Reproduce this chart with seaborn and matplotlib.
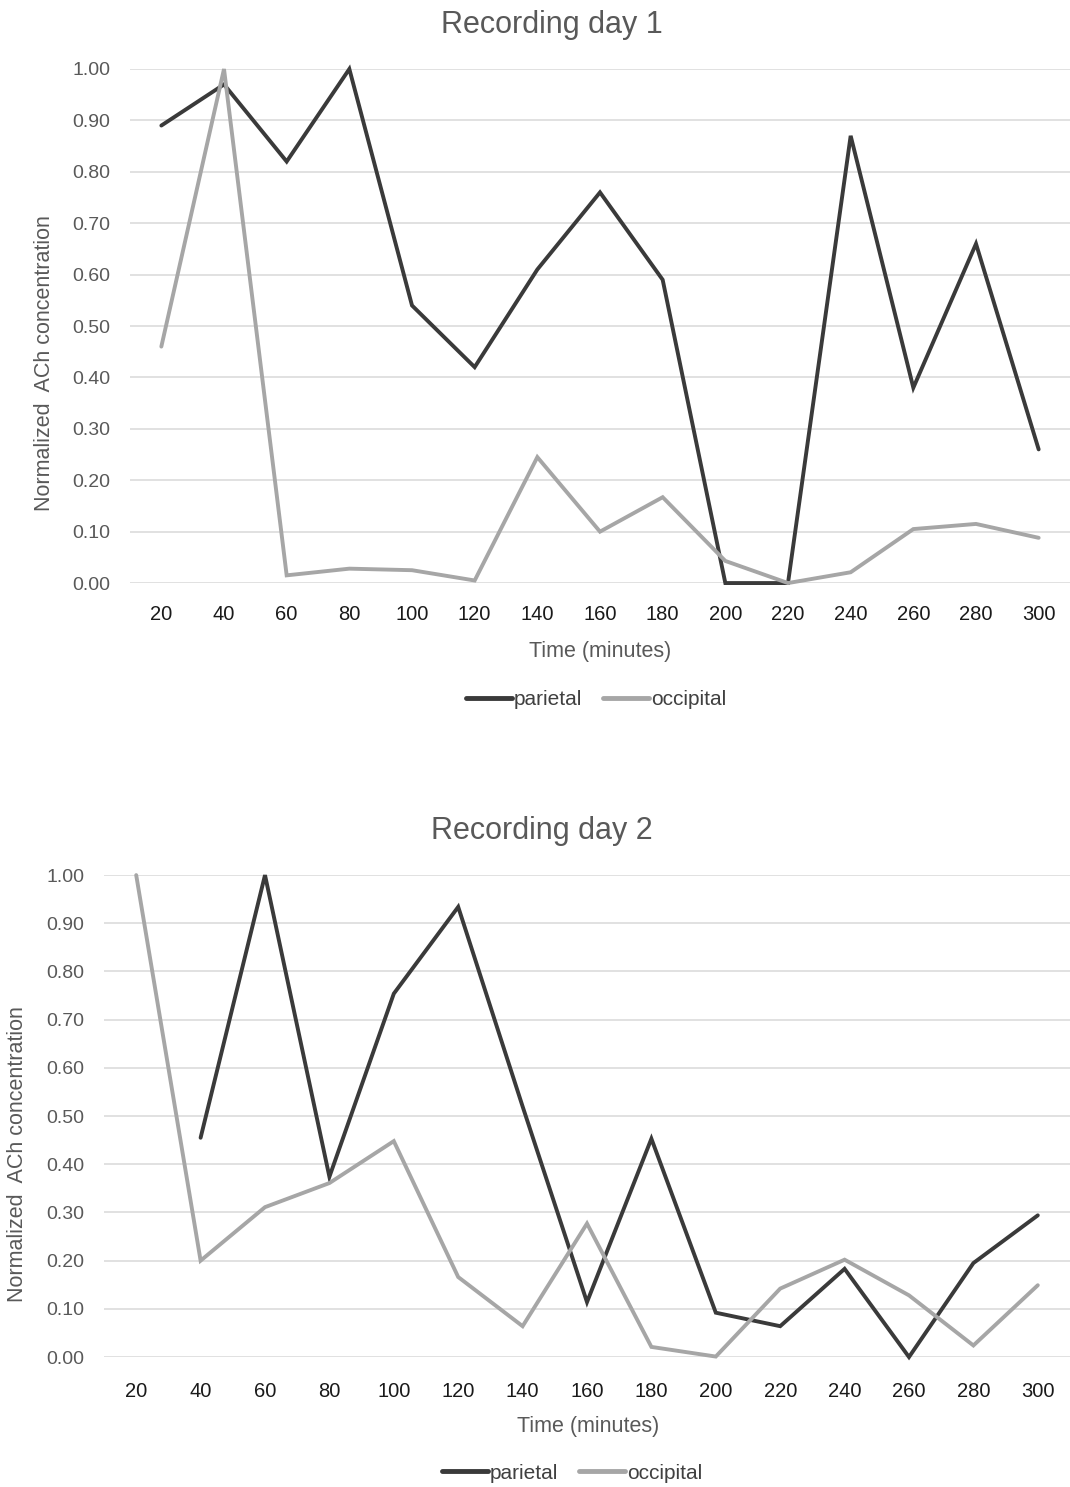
import numpy as np
import pandas as pd
import matplotlib
matplotlib.use('Agg')
import matplotlib.pyplot as plt
import seaborn as sns

# ─── Data ─────────────────────────────────────────────────────────────────
times = [20, 40, 60, 80, 100, 120, 140, 160, 180, 200, 220, 240, 260, 280, 300]

day1_parietal = [0.89, 0.97, 0.82, 1.00, 0.54, 0.42, 0.61, 0.76, 0.59,
                 0.00, 0.00, 0.87, 0.38, 0.66, 0.26]
day1_occipital = [0.46, 1.00, 0.015, 0.028, 0.025, 0.005, 0.245, 0.10, 0.167,
                  0.043, 0.00, 0.021, 0.105, 0.115, 0.088]

day2_parietal = [np.nan, 0.455, 1.00, 0.374, 0.754, 0.934, 0.52, 0.114, 0.453,
                 0.092, 0.064, 0.183, 0.00, 0.195, 0.294]
day2_occipital = [1.00, 0.20, 0.311, 0.361, 0.448, 0.166, 0.064, 0.277, 0.021,
                  0.001, 0.142, 0.202, 0.128, 0.024, 0.149]

regions = ['parietal', 'occipital']
y_ticks = [0.0, 0.1, 0.2, 0.3, 0.4, 0.5, 0.6, 0.7, 0.8, 0.9, 1.0]

PALETTE = {'parietal': '#3a3a3a', 'occipital': '#a6a6a6'}
TEXT_GRAY = '#595959'

sns.set_style('white')
plt.rcParams['font.family'] = ['Liberation Sans', 'DejaVu Sans']


def to_long(parietal, occipital):
    df = pd.DataFrame({'time': times, 'parietal': parietal, 'occipital': occipital})
    return df.melt(id_vars='time', value_vars=regions,
                   var_name='region', value_name='ach')


def draw_day(fig, rect, parietal, occipital, title, title_xy, ylab_xy,
             xlab_xy, leg_xy, xpad):
    ax = fig.add_axes(rect)
    data = to_long(parietal, occipital)
    sns.lineplot(data=data, x='time', y='ach', hue='region',
                 hue_order=regions, palette=PALETTE, linewidth=2.8,
                 sort=False, ax=ax, legend=False)
    for line in ax.lines:
        line.set_clip_on(False)
        line.set_solid_joinstyle('miter')

    ax.set_xlim(times[0] - 10, times[-1] + 10)
    ax.set_ylim(0, 1)
    ax.set_xticks(times)
    ax.set_xticklabels([str(t) for t in times])
    ax.set_yticks(y_ticks)
    ax.set_yticklabels([f'{v:.2f}' for v in y_ticks])
    ax.tick_params(axis='y', length=0, pad=14, labelsize=14, labelcolor=TEXT_GRAY)
    ax.tick_params(axis='x', length=0, pad=xpad, labelsize=14.5, labelcolor='#1a1a1a')
    ax.grid(axis='y', color='#d9d9d9', linewidth=1.1)
    ax.grid(axis='x', visible=False)
    ax.set_axisbelow(True)
    sns.despine(ax=ax, left=True, bottom=True)
    ax.set_xlabel('')
    ax.set_ylabel('')

    fig.text(*title_xy, title, ha='center', va='center', fontsize=22, color=TEXT_GRAY)
    fig.text(*ylab_xy, 'Normalized  ACh concentration', ha='center', va='center',
             rotation=90, fontsize=15.5, color=TEXT_GRAY)
    fig.text(*xlab_xy, 'Time (minutes)', ha='center', va='center',
             fontsize=15.5, color=TEXT_GRAY)

    handles = [plt.Line2D([], [], color=PALETTE[r], linewidth=3.5) for r in regions]
    fig.legend(handles, regions, loc='center', bbox_to_anchor=leg_xy,
               ncol=2, frameon=False, fontsize=15, handlelength=2.2,
               handletextpad=0.1, columnspacing=1.0, labelcolor='#404040')
    return ax


def main():
    fig = plt.figure(figsize=(10.7, 14.87), dpi=100)

    draw_day(fig, [0.1215, 0.6079, 0.8785, 0.3457],
             day1_parietal, day1_occipital, 'Recording day 1',
             (0.516, 0.9832), (0.042, 0.7559), (0.5607, 0.5622),
             (0.557, 0.5293), xpad=16)

    draw_day(fig, [0.0972, 0.0874, 0.9028, 0.3241],
             day2_parietal, day2_occipital, 'Recording day 2',
             (0.5065, 0.4412), (0.0168, 0.2239), (0.5495, 0.041),
             (0.5346, 0.0094), xpad=18)

    fig.savefig('out.png', dpi=100)
    plt.close(fig)


if __name__ == '__main__':
    main()
